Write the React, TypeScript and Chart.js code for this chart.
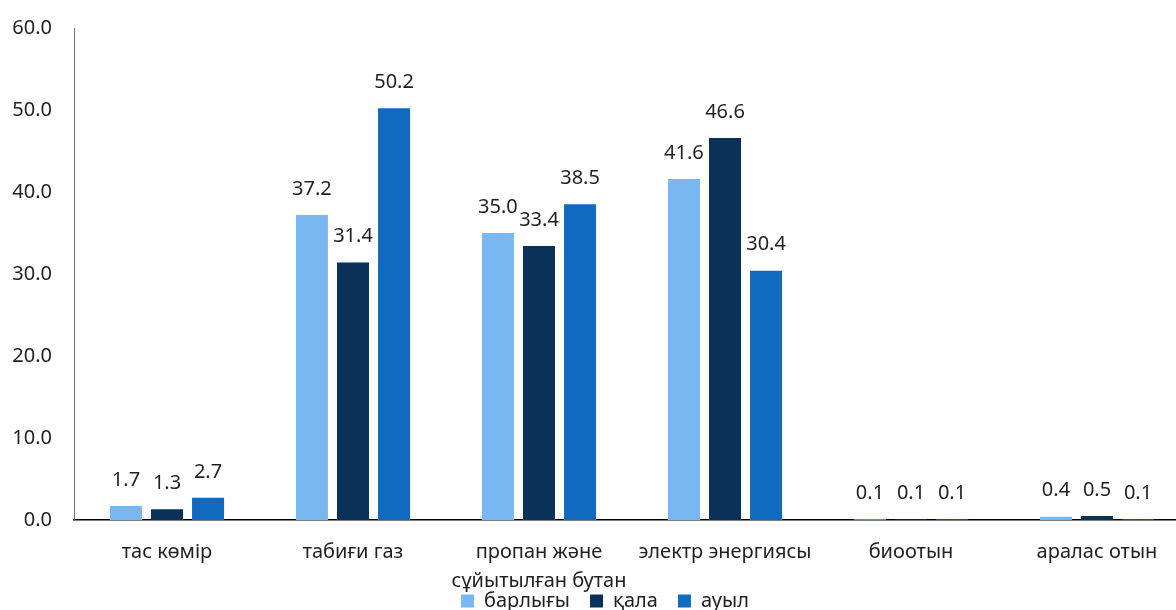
import React, { useEffect, useRef } from "react";
import { Chart, registerables } from "chart.js";

Chart.register(...registerables);

// Fuel categories (x axis); the long one wraps onto two lines
const categories: (string | string[])[] = [
  "тас көмір",
  "табиғи газ",
  ["пропан және", "сұйытылған бутан"],
  "электр энергиясы",
  "биоотын",
  "аралас отын",
];

// Shares by settlement type, %
const totalValues = [1.7, 37.2, 35.0, 41.6, 0.1, 0.4];
const urbanValues = [1.3, 31.4, 33.4, 46.6, 0.1, 0.5];
const ruralValues = [2.7, 50.2, 38.5, 30.4, 0.1, 0.1];

const seriesNames = ["барлығы", "қала", "ауыл"];
const seriesColors = ["#78B7F2", "#0A3158", "#106AC0"];

const yMin = 0;
const yMax = 60;
const yStep = 10;

const FONT = "'Noto Sans', 'Open Sans', sans-serif";
const TEXT = "#1f1f1f";

// Writes each bar's value a little above its top
const valueLabels = {
  id: "valueLabels",
  afterDatasetsDraw(chart: Chart) {
    const { ctx } = chart;
    ctx.save();
    ctx.font = `20px ${FONT}`;
    ctx.fillStyle = TEXT;
    ctx.textAlign = "center";
    ctx.textBaseline = "middle";
    chart.data.datasets.forEach((ds, di) => {
      const meta = chart.getDatasetMeta(di);
      meta.data.forEach((bar: any, i) => {
        const v = ds.data[i] as number;
        ctx.fillText(v.toFixed(1), bar.x, bar.y - 26);
      });
    });
    ctx.restore();
  },
};

// Lets the wrapped axis label run down past the legend's top edge,
// and nudges the legend row slightly to the right
const layoutTweaks = {
  id: "layoutTweaks",
  afterLayout(chart: any) {
    const x = chart.scales.x;
    if (x) x.bottom = chart.height;
    const lg = chart.legend;
    if (lg) lg.left += 20;
  },
};

export default function App() {
  const ref = useRef<HTMLCanvasElement | null>(null);

  useEffect(() => {
    if (!ref.current) return;
    const values = [totalValues, urbanValues, ruralValues];
    const chart = new Chart(ref.current, {
      type: "bar",
      data: {
        labels: categories,
        datasets: values.map((data, k) => ({
          label: seriesNames[k],
          data,
          backgroundColor: seriesColors[k],
          borderWidth: 0,
          barPercentage: 0.78,
          categoryPercentage: 0.662,
        })),
      },
      options: {
        responsive: false,
        animation: false,
        layout: { padding: { top: 28, left: 0, right: 0, bottom: 0 } },
        plugins: {
          legend: {
            position: "bottom",
            maxHeight: 39,
            labels: {
              font: { family: FONT, size: 20 },
              color: TEXT,
              boxWidth: 13,
              boxHeight: 13,
              padding: 20,
            },
          },
          tooltip: { enabled: false },
        },
        scales: {
          x: {
            grid: { display: false },
            border: { display: true, color: "#000000", width: 1.5 },
            ticks: {
              font: { family: FONT, size: 20, lineHeight: 1.45 },
              color: TEXT,
              padding: 10,
              maxRotation: 0,
              autoSkip: false,
            },
            afterFit(scale: any) {
              scale.height = 51;
            },
          },
          y: {
            min: yMin,
            max: yMax,
            grid: { display: false },
            border: { display: true, color: "#6e6e6e", width: 1 },
            ticks: {
              stepSize: yStep,
              font: { family: FONT, size: 20 },
              color: TEXT,
              padding: 14,
              callback: (v: any) => Number(v).toFixed(1),
            },
            afterFit(scale: any) {
              scale.width = 74;
              scale.paddingTop = 0;
              scale.paddingBottom = 0;
            },
          },
        },
      },
      plugins: [valueLabels, layoutTweaks],
    });
    return () => chart.destroy();
  }, []);

  return (
    <div
      style={{
        position: "fixed",
        left: 0,
        top: 0,
        width: 1176,
        height: 610,
        overflow: "hidden",
        background: "#ffffff",
      }}
    >
      <canvas ref={ref} width={1190} height={610} style={{ display: "block" }} />
    </div>
  );
}
